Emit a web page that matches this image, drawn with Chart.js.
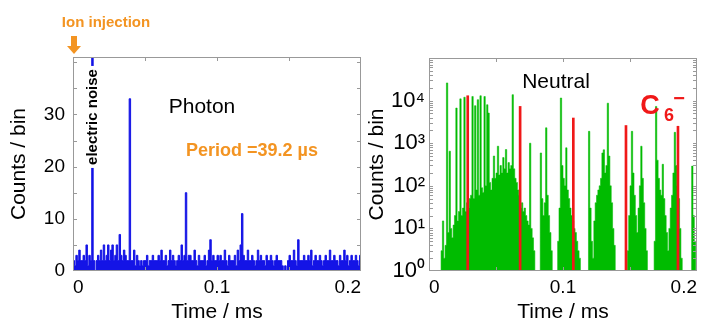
<!DOCTYPE html>
<html>
<head>
<meta charset="utf-8">
<script src="https://cdn.jsdelivr.net/npm/chart.js@4.4.0/dist/chart.umd.min.js"></script>
<style>
body { margin: 0; background: #fff; width: 707px; height: 320px; position: relative; overflow: hidden; font-family: "Liberation Sans", Arial, sans-serif; }
canvas { position: absolute; top: 0; }
#photonChart { left: 0; }
#neutralChart { left: 365px; }
.note { position: absolute; white-space: nowrap; line-height: 1; transform: translate(-50%, -50%); }
.orange { color: #f39422; font-weight: bold; }
.red { color: #f01818; font-weight: bold; }
</style>
</head>
<body>
<canvas id="photonChart" width="365" height="320"></canvas>
<canvas id="neutralChart" width="342" height="320"></canvas>

<div class="note orange" style="left:106px;top:21px;font-size:15px">Ion injection</div>
<div style="position:absolute;left:71px;top:36px;width:6px;height:11px;background:#f39422"></div>
<div style="position:absolute;left:67px;top:46px;width:0;height:0;border-left:7px solid transparent;border-right:7px solid transparent;border-top:8px solid #f39422"></div>
<div class="note" style="left:91px;top:117px;font-size:15px;font-weight:bold;background:#fff;padding:0 3px;transform:translate(-50%,-50%) rotate(-90deg)">electric noise</div>
<div class="note" style="left:202px;top:105px;font-size:21px">Photon</div>
<div class="note orange" style="left:252px;top:150px;font-size:18px">Period =39.2 µs</div>
<div class="note" style="left:556px;top:80px;font-size:21px">Neutral</div>
<div class="note red" style="left:650px;top:105px;font-size:27px">C</div>
<div class="note red" style="left:669px;top:115px;font-size:18px">6</div>
<div class="note red" style="left:679px;top:98px;font-size:20px">−</div>

<script>
// bins are 1 µs wide, time axis in ms
const binWidth = 0.001;
const timeTicks = [0, 0.1, 0.2];
const timeTickLabels = ['0', '0.1', '0.2'];

// photon counts per bin (left panel)
const photonCounts = [
  2,1,3,2,4,2,2,3,2,5,1,3,2,45,2,0,2,3,2,4,
  2,5,2,3,5,2,4,5,2,3,5,2,7,3,2,4,3,2,2,33,
  2,2,4,1,3,2,1,2,1,2,2,3,1,2,2,3,2,2,2,3,
  2,4,2,2,3,1,2,4,2,3,2,1,2,3,2,5,2,3,15,2,
  3,3,2,2,4,2,1,3,2,2,2,3,1,2,4,6,2,3,2,2,
  3,2,3,2,2,4,2,1,3,2,2,2,3,1,4,2,5,11,3,2,
  2,4,2,2,3,2,1,2,4,2,3,2,2,1,3,2,2,3,2,1,
  2,3,2,2,2,1,0,1,0,2,3,2,2,4,2,1,6,2,2,2,
  3,2,2,3,2,4,1,2,3,2,2,3,2,1,2,3,2,2,4,2,
  2,3,2,2,1,3,2,2,4,2,3,1,2,3,2,2,3,2,1,3
];
const photonTicksY = [0, 10, 20, 30];

// neutral counts per bin (right panel, log scale)
const neutralCounts = [
  1,1,1,1,1,1,1,1,1,3,15,2,4,26000,8,650,10,6,12,20,
  6700,15,25,11000,20,30,12000,25,40,30,50,60,12500,50,7600,80,10500,60,13000,90,
  70,12500,100,8000,5100,120,80,150,500,150,200,850,180,300,200,460,250,710,200,350,
  250,300,13800,250,150,120,80,60,30,40,25,30,20,15,12,1000,10,6,3,1,
  1,1,1,590,50,20,40,2300,60,20,8,3,1,1,1,1,5,30,11500,300,
  150,100,780,80,50,30,20,15,10,8,5,3,2,1,1,1,1,1,1,1900,
  30,5,2,15,40,60,80,100,150,590,700,200,300,8700,500,100,40,10,4,1,
  1,1,1,1,1,1,1,1,3,20,100,1900,200,60,20,8,30,100,850,150,
  40,10,3,1,1,1,1,1,5,7300,400,150,80,60,320,50,20,8,3,10,
  30,60,200,1800,300,100,50,10,2,1,1,1,1,1,1,1,290,20,5,1
];
// C6- signal every 39.2 µs
const anionTimes = [0.0289, 0.068, 0.1077, 0.147, 0.1858];
const anionCounts = [13000, 7300, 3900, 2600, 2500];
const neutralTicksY = [1, 10, 100, 1000, 10000];
const neutralTickLabels = ['10⁰', '10¹', '10²', '10³', '10⁴'];

Chart.defaults.font.family = '"Liberation Sans", Arial, sans-serif';
Chart.defaults.color = '#000';

// box round the plot with inward ticks, like the original
const frameTicks = {
  id: 'frameTicks',
  afterDatasetsDraw(chart, args, opts) {
    const ctx = chart.ctx, a = chart.chartArea;
    const x = chart.scales.x, y = chart.scales.y;
    ctx.save();
    ctx.strokeStyle = opts.color;
    ctx.lineWidth = 1;
    ctx.beginPath();
    opts.xMinor.forEach(function(v) {
      const px = Math.round(x.getPixelForValue(v)) + 0.5;
      ctx.moveTo(px, a.top); ctx.lineTo(px, a.top + 4);
      ctx.moveTo(px, a.bottom); ctx.lineTo(px, a.bottom - 4);
    });
    opts.yMinor.forEach(function(v) {
      const py = Math.round(y.getPixelForValue(v)) + 0.5;
      ctx.moveTo(a.left, py); ctx.lineTo(a.left + 4, py);
      ctx.moveTo(a.right, py); ctx.lineTo(a.right - 4, py);
    });
    ctx.stroke();
    ctx.strokeRect(a.left + 0.5, a.top + 0.5, a.width - 1, a.height - 1);
    ctx.restore();
  }
};

function timeAxis() {
  return {
    type: 'linear', min: 0, max: 0.2, offset: false,
    afterBuildTicks: function(s) { s.ticks = timeTicks.map(function(v) { return {value: v}; }); },
    afterFit: function(s) { s.height = 49; s.paddingLeft = 0; s.paddingRight = 0; },
    ticks: { callback: function(v, i) { return timeTickLabels[i]; }, align: 'inner', padding: 5, maxRotation: 0, autoSkip: false, font: {size: 19} },
    grid: { display: false, drawTicks: false },
    border: { display: false },
    title: { display: true, text: 'Time / ms', font: {size: 21}, padding: {top: 0, bottom: -5} }
  };
}

const xMinor = [0.05, 0.1, 0.15];
const photonMinorY = [];
for (let v = 5; v <= 40; v += 5) photonMinorY.push(v);
const neutralMinorY = [];
for (let d = 1; d <= 10000; d *= 10) for (let k = 1; k <= 9; k++) if (d * k > 1) neutralMinorY.push(d * k);

new Chart(document.getElementById('photonChart'), {
  type: 'line',
  data: {
    datasets: [{
      data: photonCounts.map(function(c, i) { return {x: (i + 0.5) * binWidth, y: c}; }),
      stepped: 'middle',
      fill: 'origin',
      backgroundColor: '#1414e6',
      borderColor: '#1414e6',
      borderWidth: 1,
      pointRadius: 0
    }]
  },
  options: {
    responsive: false, animation: false, devicePixelRatio: 1, events: [],
    layout: { padding: {left: 0, top: 57, right: 4, bottom: 0} },
    plugins: { legend: {display: false}, tooltip: {enabled: false},
      frameTicks: { color: '#999', xMinor: xMinor, yMinor: photonMinorY } },
    scales: {
      x: timeAxis(),
      y: {
        type: 'linear', min: 0, max: 41,
        afterBuildTicks: function(s) { s.ticks = photonTicksY.map(function(v) { return {value: v}; }); },
        afterFit: function(s) { s.width = 73; s.paddingTop = 0; s.paddingBottom = 0; },
        ticks: { padding: 8, font: {size: 19} },
        grid: { display: false, drawTicks: false },
        border: { display: false },
        title: { display: true, text: 'Counts / bin', font: {size: 21}, padding: {top: 7, bottom: 0} }
      }
    }
  },
  plugins: [frameTicks]
});

new Chart(document.getElementById('neutralChart'), {
  type: 'line',
  data: {
    datasets: [{
      type: 'bar',
      data: anionTimes.map(function(t, i) { return {x: t, y: anionCounts[i]}; }),
      backgroundColor: '#f01818',
      barThickness: 2,
      grouped: false
    }, {
      data: neutralCounts.map(function(c, i) { return {x: (i + 0.5) * binWidth, y: c}; }),
      stepped: 'middle',
      fill: 'start',
      backgroundColor: '#00bb00',
      borderColor: 'rgba(0,187,0,0.55)',
      borderWidth: 1,
      pointRadius: 0
    }]
  },
  options: {
    responsive: false, animation: false, devicePixelRatio: 1, events: [],
    layout: { padding: {left: 0, top: 58, right: 10, bottom: 0} },
    plugins: { legend: {display: false}, tooltip: {enabled: false},
      frameTicks: { color: '#999', xMinor: xMinor, yMinor: neutralMinorY } },
    scales: {
      x: timeAxis(),
      y: {
        type: 'logarithmic', min: 1, max: 100000,
        afterBuildTicks: function(s) { s.ticks = neutralTicksY.map(function(v) { return {value: v}; }); },
        afterFit: function(s) { s.width = 64; s.paddingTop = 0; s.paddingBottom = 0; },
        ticks: { callback: function(v, i) { return neutralTickLabels[i]; }, padding: 4, font: {size: 22} },
        grid: { display: false, drawTicks: false },
        border: { display: false },
        title: { display: true, text: 'Counts / bin', font: {size: 21}, padding: {top: 0, bottom: 0} }
      }
    }
  },
  plugins: [frameTicks]
});
</script>
</body>
</html>
